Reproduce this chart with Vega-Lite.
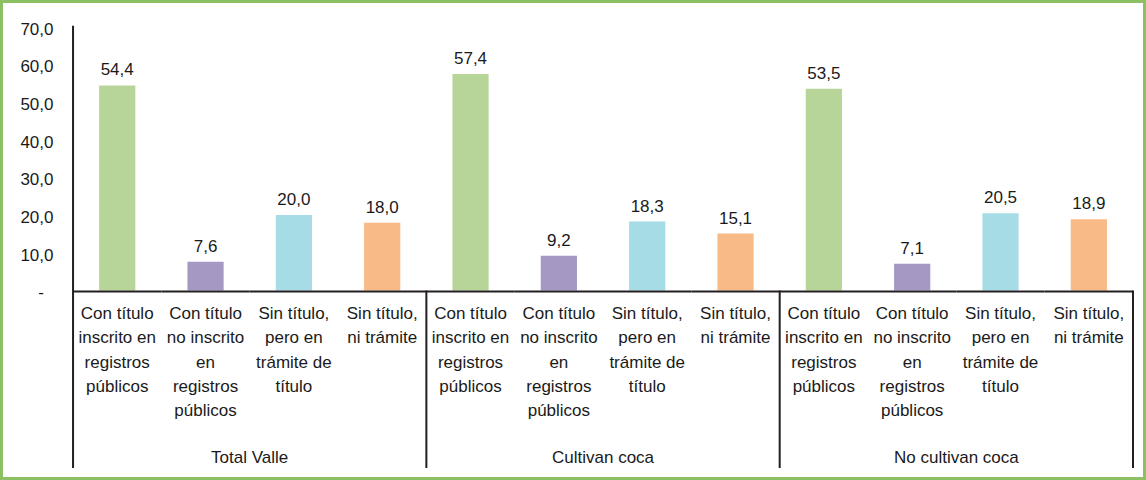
{
  "$schema": "https://vega.github.io/schema/vega-lite/v6.json",
  "width": 1146,
  "height": 480,
  "autosize": "none",
  "padding": 0,
  "background": "white",
  "config": {
    "locale": {"number": {"decimal": ",", "thousands": ".", "grouping": [3], "currency": ["$", ""]}},
    "view": {"stroke": "#8DC063", "strokeWidth": 6},
    "font": "Liberation Sans, Arial, sans-serif"
  },
  "data": {
    "values": [
      {"grupo": "Total Valle", "cat": "Con título inscrito en registros públicos", "x": "Con título|inscrito en|registros|públicos|TV", "valor": 54.4},
      {"grupo": "Total Valle", "cat": "Con título no inscrito en registros públicos", "x": "Con título|no inscrito|en|registros|públicos|TV", "valor": 7.6},
      {"grupo": "Total Valle", "cat": "Sin título, pero en trámite de título", "x": "Sin título,|pero en|trámite de|título|TV", "valor": 20.0},
      {"grupo": "Total Valle", "cat": "Sin título, ni trámite", "x": "Sin título,|ni trámite|TV", "valor": 18.0},
      {"grupo": "Cultivan coca", "cat": "Con título inscrito en registros públicos", "x": "Con título|inscrito en|registros|públicos|CC", "valor": 57.4},
      {"grupo": "Cultivan coca", "cat": "Con título no inscrito en registros públicos", "x": "Con título|no inscrito|en|registros|públicos|CC", "valor": 9.2},
      {"grupo": "Cultivan coca", "cat": "Sin título, pero en trámite de título", "x": "Sin título,|pero en|trámite de|título|CC", "valor": 18.3},
      {"grupo": "Cultivan coca", "cat": "Sin título, ni trámite", "x": "Sin título,|ni trámite|CC", "valor": 15.1},
      {"grupo": "No cultivan coca", "cat": "Con título inscrito en registros públicos", "x": "Con título|inscrito en|registros|públicos|NC", "valor": 53.5},
      {"grupo": "No cultivan coca", "cat": "Con título no inscrito en registros públicos", "x": "Con título|no inscrito|en|registros|públicos|NC", "valor": 7.1},
      {"grupo": "No cultivan coca", "cat": "Sin título, pero en trámite de título", "x": "Sin título,|pero en|trámite de|título|NC", "valor": 20.5},
      {"grupo": "No cultivan coca", "cat": "Sin título, ni trámite", "x": "Sin título,|ni trámite|NC", "valor": 18.9}
    ]
  },
  "encoding": {
    "x": {
      "field": "x",
      "type": "nominal",
      "sort": null,
      "scale": {"paddingInner": 0, "paddingOuter": 0.487, "align": 0.849},
      "axis": {
        "title": null,
        "orient": "bottom",
        "offset": -189.5,
        "domain": false,
        "ticks": false,
        "tickSize": 0,
        "labelPadding": 15,
        "labelAngle": 0,
        "labelAlign": "center",
        "labelBaseline": "top",
        "labelLineHeight": 24.3,
        "labelFontSize": 17,
        "labelColor": "#1a1a1a",
        "labelOverlap": false,
        "labelBound": false,
        "labelFlush": false,
        "labelLimit": 0,
        "labelExpr": "slice(split(datum.value, '|'), 0, -1)"
      }
    }
  },
  "layer": [
    {
      "mark": {"type": "bar", "width": {"band": 0.41}},
      "encoding": {
        "y": {
          "field": "valor",
          "type": "quantitative",
          "scale": {"domain": [-50.27, 77.06], "nice": false, "zero": false},
          "axis": {
            "title": null,
            "orient": "left",
            "offset": -73,
            "values": [10, 20, 30, 40, 50, 60, 70],
            "format": ".1f",
            "grid": false,
            "domain": false,
            "ticks": false,
            "tickSize": 0,
            "labelPadding": 20,
            "labelOffset": 2.5,
            "labelFontSize": 17,
            "labelColor": "#1a1a1a"
          }
        },
        "y2": {"datum": 0},
        "color": {
          "field": "cat",
          "type": "nominal",
          "sort": null,
          "legend": null,
          "scale": {
            "domain": ["Con título inscrito en registros públicos", "Con título no inscrito en registros públicos", "Sin título, pero en trámite de título", "Sin título, ni trámite"],
            "range": ["#B7D598", "#A599C4", "#A6DCE5", "#F8BA86"]
          }
        }
      }
    },
    {
      "mark": {"type": "text", "baseline": "bottom", "dy": -6, "fontSize": 17, "color": "#1a1a1a"},
      "encoding": {
        "y": {"field": "valor", "type": "quantitative"},
        "text": {"field": "valor", "type": "quantitative", "format": ".1f"}
      }
    },
    {
      "mark": {"type": "bar", "width": {"band": 1}, "color": "#231F20"},
      "encoding": {
        "y": {"datum": 0},
        "y2": {"datum": -0.55}
      }
    },
    {
      "transform": [{"filter": "datum.cat == 'Sin título, ni trámite'"}],
      "mark": {"type": "rule", "color": "#231F20", "strokeWidth": 2},
      "encoding": {
        "x": {"field": "x", "type": "nominal", "sort": null, "bandPosition": 1},
        "y": {"datum": 0},
        "y2": {"datum": -47.1}
      }
    },
    {
      "transform": [{"filter": "datum.cat == 'Con título inscrito en registros públicos' && datum.grupo == 'Total Valle'"}],
      "mark": {"type": "rule", "color": "#231F20", "strokeWidth": 2},
      "encoding": {
        "x": {"field": "x", "type": "nominal", "sort": null, "bandPosition": 0},
        "y": {"datum": 70.2},
        "y2": {"datum": -47.1}
      }
    },
    {
      "transform": [{"filter": "datum.cat == 'Con título inscrito en registros públicos' && datum.grupo == 'Total Valle'"}],
      "mark": {"type": "text", "fontSize": 17, "color": "#1a1a1a", "baseline": "middle", "align": "center", "dx": -32, "dy": 2.5},
      "encoding": {
        "x": {"field": "x", "type": "nominal", "sort": null, "bandPosition": 0},
        "y": {"datum": 0},
        "text": {"value": "-"}
      }
    },
    {
      "transform": [{"filter": "datum.cat == 'Con título no inscrito en registros públicos'"}],
      "mark": {"type": "text", "fontSize": 17, "color": "#1a1a1a", "baseline": "middle"},
      "encoding": {
        "x": {"field": "x", "type": "nominal", "sort": null, "bandPosition": 1},
        "y": {"datum": -44.4},
        "text": {"field": "grupo"}
      }
    }
  ]
}
